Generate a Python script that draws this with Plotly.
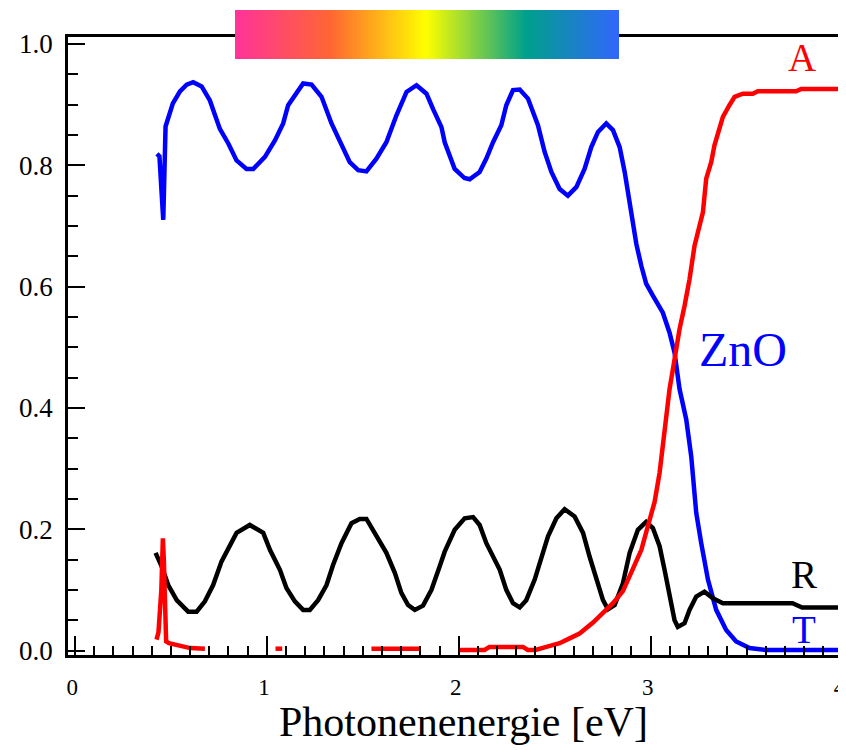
import numpy as np
import plotly.graph_objects as go

# ---------------- data ----------------
t_x = [0.427, 0.44, 0.46, 0.472, 0.51, 0.547, 0.582, 0.616, 0.66, 0.703, 0.755, 0.799, 0.842, 0.894,
       0.929, 0.99, 1.042, 1.085, 1.111, 1.155, 1.189, 1.233, 1.285, 1.337, 1.389, 1.432, 1.476, 1.519,
       1.571, 1.623, 1.675, 1.728, 1.78, 1.832, 1.866, 1.91, 1.927, 1.979, 2.03, 2.057, 2.109, 2.144,
       2.179, 2.222, 2.248, 2.283, 2.318, 2.361, 2.413, 2.448, 2.483, 2.526, 2.569, 2.613, 2.656, 2.691,
       2.726, 2.769, 2.804, 2.839, 2.865, 2.891, 2.926, 2.952, 2.977, 3.012, 3.064, 3.099, 3.125, 3.151,
       3.186, 3.212, 3.238, 3.264, 3.299, 3.342, 3.394, 3.446, 3.516, 3.6, 4.0]
t_y = [0.819, 0.815, 0.710, 0.864, 0.902, 0.922, 0.933, 0.937, 0.930, 0.907, 0.860, 0.836, 0.808, 0.794,
       0.794, 0.814, 0.841, 0.869, 0.899, 0.921, 0.935, 0.933, 0.913, 0.869, 0.836, 0.805, 0.792, 0.790,
       0.811, 0.838, 0.882, 0.921, 0.932, 0.918, 0.893, 0.863, 0.838, 0.794, 0.779, 0.777, 0.789, 0.811,
       0.838, 0.866, 0.899, 0.924, 0.925, 0.910, 0.866, 0.822, 0.789, 0.761, 0.750, 0.764, 0.794, 0.830,
       0.855, 0.869, 0.858, 0.830, 0.789, 0.735, 0.670, 0.634, 0.605, 0.585, 0.557, 0.524, 0.491, 0.431,
       0.381, 0.320, 0.227, 0.177, 0.117, 0.067, 0.034, 0.015, 0.004, 0.001, 0.001]

r_x = [0.42, 0.451, 0.486, 0.53, 0.59, 0.634, 0.677, 0.72, 0.764, 0.807, 0.842, 0.911, 0.981, 1.016,
       1.068, 1.102, 1.146, 1.189, 1.224, 1.267, 1.311, 1.345, 1.389, 1.441, 1.484, 1.519, 1.571, 1.623,
       1.667, 1.701, 1.736, 1.771, 1.814, 1.858, 1.901, 1.927, 1.979, 2.031, 2.075, 2.109, 2.144, 2.179,
       2.214, 2.248, 2.283, 2.318, 2.352, 2.396, 2.431, 2.465, 2.509, 2.552, 2.604, 2.648, 2.682, 2.717,
       2.752, 2.778, 2.813, 2.856, 2.891, 2.934, 2.977, 3.012, 3.047, 3.073, 3.099, 3.125, 3.142, 3.177,
       3.203, 3.238, 3.281, 3.325, 3.377, 3.74, 3.79, 4.0]
r_y = [0.161, 0.139, 0.108, 0.083, 0.064, 0.064, 0.081, 0.108, 0.147, 0.172, 0.194, 0.207, 0.194, 0.166,
       0.133, 0.103, 0.081, 0.067, 0.067, 0.083, 0.108, 0.141, 0.177, 0.210, 0.217, 0.217, 0.188, 0.161,
       0.128, 0.095, 0.075, 0.067, 0.074, 0.100, 0.139, 0.163, 0.199, 0.218, 0.220, 0.207, 0.177, 0.155,
       0.133, 0.100, 0.078, 0.071, 0.083, 0.117, 0.155, 0.188, 0.218, 0.233, 0.221, 0.194, 0.155, 0.117,
       0.083, 0.068, 0.075, 0.111, 0.161, 0.199, 0.212, 0.202, 0.172, 0.133, 0.089, 0.050, 0.039, 0.045,
       0.067, 0.089, 0.097, 0.086, 0.078, 0.078, 0.071, 0.071]

# None marks the gaps in the measured absorption curve
a_x = [0.425, 0.435, 0.45, 0.458, 0.463, 0.468, 0.475, 0.49, 0.52, 0.56, 0.6, 0.677, None,
       1.045, 1.08, None,
       1.545, 1.797, None,
       2.0, 2.135, 2.16, 2.335, 2.36, 2.40, 2.457, 2.526, 2.578, 2.63, 2.7, 2.752, 2.804, 2.856, 2.908,
       2.952, 2.986, 3.021, 3.047, 3.073, 3.099, 3.125, 3.151, 3.177, 3.203, 3.229, 3.255, 3.273, 3.29,
       3.316, 3.333, 3.359, 3.377, 3.411, 3.438, 3.481, 3.533, 3.559, 3.759, 3.785, 4.0]
a_y = [0.018, 0.03, 0.10, 0.185, 0.15, 0.04, 0.015, 0.012, 0.010, 0.006, 0.004, 0.003, None,
       0.003, 0.003, None,
       0.003, 0.003, None,
       0.001, 0.001, 0.006, 0.006, 0.001, 0.001, 0.006, 0.012, 0.020, 0.028, 0.046, 0.061, 0.078, 0.098, 0.133,
       0.166, 0.205, 0.245, 0.293, 0.364, 0.431, 0.48, 0.530, 0.568, 0.612, 0.667, 0.700, 0.723, 0.778,
       0.805, 0.833, 0.860, 0.880, 0.899, 0.913, 0.918, 0.918, 0.922, 0.922, 0.926, 0.926]

x_tick_vals = [0, 1, 2, 3, 4]
x_tick_text = ["0", "1", "2", "3", "4"]
y_tick_vals = [0.0, 0.2, 0.4, 0.6, 0.8, 1.0]
y_tick_text = ["0.0", "0.2", "0.4", "0.6", "0.8", "1.0"]
x_title = "Photonenenergie [eV]"

curve_labels = ["A", "ZnO", "R", "T"]
label_x = [3.79, 3.48, 3.80, 3.80]
label_y = [0.978, 0.497, 0.125, 0.035]
label_colors = ["#ff0000", "#0000ff", "#000000", "#0000ff"]
label_sizes = [39, 48, 39, 39]

spectrum_stops = [(0.0, "#ff3399"), (0.247, "#ff6633"), (0.495, "#ffff00"),
                  (0.755, "#00a08c"), (1.0, "#3366ff")]

FONT = "Liberation Serif"

fig = go.Figure()

fig.add_trace(go.Scatter(x=t_x, y=t_y, mode="lines", line=dict(color="#0000ff", width=4.5),
                         showlegend=False, hoverinfo="skip"))
fig.add_trace(go.Scatter(x=r_x, y=r_y, mode="lines", line=dict(color="#000000", width=4.5),
                         showlegend=False, hoverinfo="skip"))
fig.add_trace(go.Scatter(x=a_x, y=a_y, mode="lines", line=dict(color="#ff0000", width=4.5),
                         connectgaps=False, showlegend=False, hoverinfo="skip"))

# colour spectrum bar at the top
n = 200
fig.add_trace(go.Heatmap(z=[list(np.linspace(0, 1, n))], x=list(range(n)), y=[0],
                         colorscale=[list(s) for s in spectrum_stops], showscale=False,
                         zsmooth="best", xaxis="x2", yaxis="y2", hoverinfo="skip"))

for txt, lx, ly, c, s in zip(curve_labels, label_x, label_y, label_colors, label_sizes):
    fig.add_annotation(x=lx, y=ly, text=txt, showarrow=False, xanchor="center", yanchor="middle",
                       font=dict(family=FONT, size=s, color=c))

# x-axis title (slightly right of the plot centre, as in the reference)
fig.add_annotation(x=0.5097, y=-0.104, xref="paper", yref="paper", text=x_title, showarrow=False,
                   xanchor="center", yanchor="middle",
                   font=dict(family=FONT, size=42, color="black"))

# tick labels sit slightly left of their ticks in the reference (pad with a no-break space)
x_tick_labels_shown = [t + "\u00a0" for t in x_tick_text]

# the page body adds an 8 px offset, so the figure is 8 px smaller and margins shifted
fig.update_layout(
    width=838, height=742,
    margin=dict(l=60, r=3, t=2, b=95, autoexpand=False),
    paper_bgcolor="white", plot_bgcolor="white",
    font=dict(family=FONT, color="black"),
    xaxis=dict(range=[-0.0365, 4.003], domain=[0, 1], automargin=False,
               showline=True, linecolor="black", linewidth=2.5, mirror=True,
               showgrid=False, zeroline=False,
               tickmode="array", tickvals=x_tick_vals, ticktext=x_tick_labels_shown,
               ticks="inside", ticklen=19, tickwidth=2, tickcolor="black",
               tickfont=dict(family=FONT, size=23, color="black"),
               ticklabelstandoff=10, ticklabeloverflow="allow",
               minor=dict(dtick=0.1, tick0=0, ticks="inside", ticklen=9, tickwidth=2,
                          tickcolor="black", showgrid=False)),
    yaxis=dict(range=[-0.0074, 1.0115], domain=[0, 0.9581], automargin=False,
               showline=True, linecolor="black", linewidth=2.5, mirror=False,
               showgrid=False, zeroline=False,
               tickmode="array", tickvals=y_tick_vals, ticktext=y_tick_text,
               ticks="inside", ticklen=17, tickwidth=2, tickcolor="black",
               tickfont=dict(family=FONT, size=27, color="black"),
               ticklabelstandoff=7,
               minor=dict(dtick=0.05, tick0=0, ticks="inside", ticklen=10, tickwidth=2,
                          tickcolor="black", showgrid=False)),
    xaxis2=dict(domain=[0.2155, 0.711], anchor="y2", range=[0, n - 1],
                visible=False, fixedrange=True),
    yaxis2=dict(domain=[0.924, 1.0], anchor="x2", range=[-0.5, 0.5],
                visible=False, fixedrange=True),
)

fig.write_html("out.html")
